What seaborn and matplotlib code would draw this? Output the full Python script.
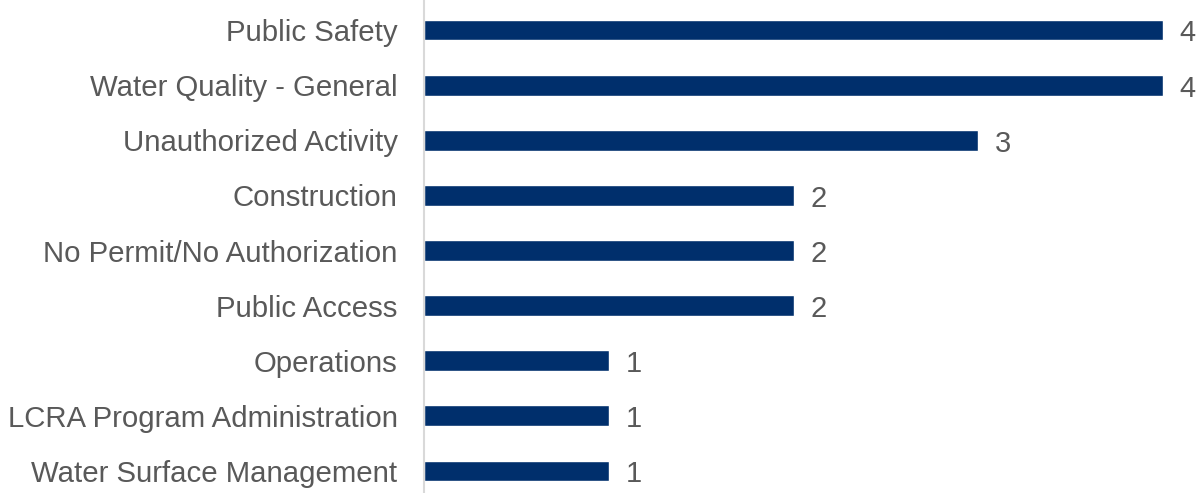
import pandas as pd
import matplotlib.pyplot as plt
import seaborn as sns

categories = ['Public Safety', 'Water Quality - General', 'Unauthorized Activity',
              'Construction', 'No Permit/No Authorization', 'Public Access',
              'Operations', 'LCRA Program Administration', 'Water Surface Management']
counts = [4, 4, 3, 2, 2, 2, 1, 1, 1]

df = pd.DataFrame({'category': categories, 'count': counts})

sns.set_style('white')
plt.rcParams['font.family'] = ['Liberation Sans', 'DejaVu Sans']

fig = plt.figure(figsize=(12.04, 4.93), dpi=100)
ax = fig.add_axes([424 / 1204, 0, 780 / 1204, 1])

sns.barplot(data=df, x='count', y='category', orient='h', color='#002f6c',
            width=0.38, saturation=1, ax=ax)

# value labels at bar ends, nudged a little below centre like the original
for c in ax.containers:
    anns = ax.bar_label(c, labels=[str(v) for v in counts], padding=12,
                        fontsize=21, color='#595959')
    for a in anns:
        a.xyann = (12, -2.5)

ax.set_xlim(0, 780 / 184.75)
ax.set_ylim(8 + 22 / 55.125, -30 / 55.125)
ax.set_xlabel('')
ax.set_ylabel('')
ax.set_xticks([])
ax.tick_params(axis='y', length=0, pad=19, labelsize=21.2, labelcolor='#595959')

for s in ['top', 'right', 'bottom']:
    ax.spines[s].set_visible(False)
ax.spines['left'].set_color('#d9d9d9')
ax.spines['left'].set_linewidth(1.5)

fig.savefig('out.png', dpi=100)
